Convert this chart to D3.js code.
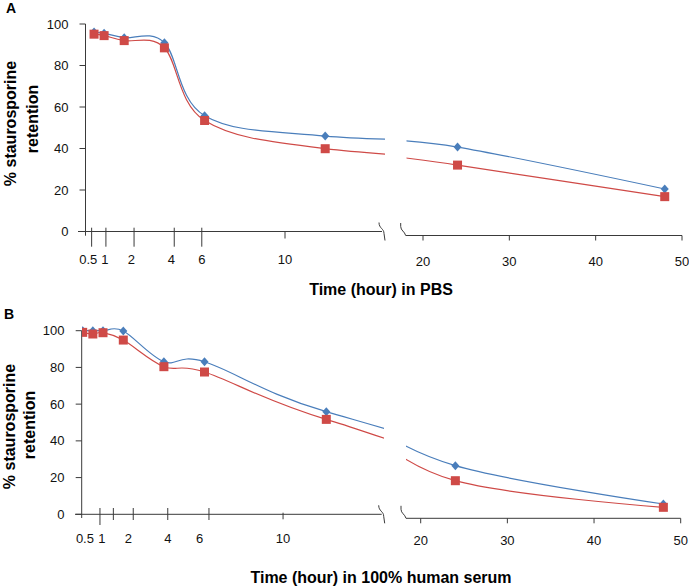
<!DOCTYPE html>
<html><head><meta charset="utf-8">
<script src="https://cdn.jsdelivr.net/npm/d3@7"></script>
<style>html,body{margin:0;padding:0;background:#fff;} svg{display:block;font-family:"Liberation Sans",Arial,sans-serif;}</style>
</head><body><svg id="chart" width="689" height="587"></svg>
<script>
// ---------------- data ----------------
const hoursA = [0.5, 1, 2, 4, 6, 12, 24, 48];
const blueA  = [96.1, 95.5, 93.4, 91.0, 55.8, 46.0, 40.7, 20.5];
const redA   = [95.1, 94.4, 92.0, 88.5, 53.5, 39.9, 32.0, 16.8];
const hoursB = [0, 0.5, 1, 2, 4, 6, 12, 24, 48];
const blueB  = [100, 100, 100, 99.8, 83.1, 83.1, 55.9, 26.5, 5.6];
const redB   = [99.1, 98.2, 98.9, 94.9, 80.4, 77.5, 51.7, 18.3, 3.8];
const yTickValues = [0, 20, 40, 60, 80, 100];
const leftTickLabels = ["0.5", "1", "2", "4", "6", "10"];
const tickMarkHoursA  = [0.38, 1.09, 2.49, 4.49, 5.86, 10.0];
const tickLabelHoursA = [0.21, 1.04, 2.36, 4.35, 5.87, 10.0];
const tickMarkHoursB  = [0.85, 1.51, 2.49, 4.19, 6.22, 9.87];
const tickLabelHoursB = [0.11, 0.95, 2.25, 4.20, 5.76, 9.87];
const rightTickValues = [20, 30, 40, 50];
const yTitleLines = ["% staurosporine", "retention"];
const xTitles = ["Time (hour) in PBS", "Time (hour) in 100% human serum"];
const panelLetters = ["A", "B"];

// ---------------- layout ----------------
const BLUE = "#4a7ebb", RED = "#cf4a47", AXIS = "#3a3a3a";
const svg = d3.select("#chart");

const layouts = [
  { letterX: 6, letterY: 13, yAxisX: 85.5, yPx: [231.5, 24], yAxisEnd: 235.7, leftAxisStart: 78,
    leftPx: [84, 385.5], breakX: 382, rightPx: [423, 682], rightAxisStart: 405.7, rightDrop: 4,
    longTick: [-3.8, 15.2], firstTickExtra: 0, shortTick: [0, 7], leftLabelDy: 32.5, rightLabelDy: 30.5,
    yTitleX: [16, 38], yTitleY: [123.5, 119], xTitleY: 295, yLabelEnd: 68.5,
    clipL: [85, 385], clipR: [406.5, 689] },
  { letterX: 4, letterY: 319, yAxisX: 81.7, yPx: [514.3, 330.7], yAxisEnd: 518, leftAxisStart: 75,
    leftPx: [82.7, 387.2], breakX: 381.7, rightPx: [420.7, 680.7], rightAxisStart: 406, rightDrop: 4,
    longTick: [-6.3, 5.7], firstTickExtra: 5, shortTick: [-1.6, 5], leftLabelDy: 29, rightLabelDy: 26.7,
    yTitleX: [15, 35], yTitleY: [426.5, 425], xTitleY: 583, yLabelEnd: 64.5,
    clipL: [82, 384], clipR: [406, 689] }
];

const panelData = [
  { hours: hoursA, blue: blueA, red: redA, marks: tickMarkHoursA, labels: tickLabelHoursA },
  { hours: hoursB, blue: blueB, red: redB, marks: tickMarkHoursB, labels: tickLabelHoursB }
];

const defs = svg.append("defs");

layouts.forEach((L, pi) => {
  const D = panelData[pi];
  const g = svg.append("g");
  const y = d3.scaleLinear().domain([0, 100]).range(L.yPx);
  const xl = d3.scaleLinear().domain([0, 15]).range(L.leftPx);
  const xr = d3.scaleLinear().domain([20, 50]).range(L.rightPx);
  const y0 = y(0);
  const yR = y0 + L.rightDrop;

  // panel letter
  g.append("text").attr("x", L.letterX).attr("y", L.letterY).attr("font-size", 14)
    .attr("font-weight", "bold").text(panelLetters[pi]);

  // y title (two lines)
  yTitleLines.forEach((t, i) => {
    g.append("text").attr("transform", `translate(${L.yTitleX[i]},${L.yTitleY[i]}) rotate(-90)`)
      .attr("text-anchor", "middle").attr("font-size", 16).attr("font-weight", "bold").text(t);
  });

  // y axis
  g.append("line").attr("x1", L.yAxisX).attr("x2", L.yAxisX).attr("y1", y(100)).attr("y2", L.yAxisEnd)
    .attr("stroke", AXIS).attr("stroke-width", 1);
  yTickValues.forEach(v => {
    g.append("line").attr("x1", L.yAxisX - 6).attr("x2", L.yAxisX).attr("y1", y(v)).attr("y2", y(v))
      .attr("stroke", AXIS).attr("stroke-width", 1);
    g.append("text").attr("x", L.yLabelEnd).attr("y", y(v)).attr("dy", "0.35em")
      .attr("text-anchor", "end").attr("font-size", 13).attr("fill", "#111").text(v);
  });

  // left x axis
  g.append("line").attr("x1", L.leftAxisStart).attr("x2", L.breakX).attr("y1", y0).attr("y2", y0)
    .attr("stroke", AXIS).attr("stroke-width", 1);
  D.marks.forEach((h, i) => {
    const isShort = i === D.marks.length - 1;
    const t = isShort ? L.shortTick : L.longTick;
    const extra = i === 0 ? L.firstTickExtra : 0;
    g.append("line").attr("x1", xl(h)).attr("x2", xl(h)).attr("y1", y0 + t[0]).attr("y2", y0 + t[1] + extra)
      .attr("stroke", AXIS).attr("stroke-width", 1);
  });
  D.labels.forEach((h, i) => {
    g.append("text").attr("x", xl(h)).attr("y", y0 + L.leftLabelDy).attr("text-anchor", "middle")
      .attr("font-size", 13).attr("fill", "#111").text(leftTickLabels[i]);
  });

  // break marks
  const bx = L.breakX;
  g.append("path").attr("d", `M${bx - 3},${y0 - 9} C${bx - 3},${y0 - 3} ${bx + 2},${y0 - 3} ${bx + 2},${y0 + 2} L${bx + 3},${y0 + 9}`)
    .attr("fill", "none").attr("stroke", AXIS).attr("stroke-width", 1);
  const rx = L.rightAxisStart;
  g.append("path").attr("d", `M${rx - 5},${yR - 12.5} L${rx - 5},${yR - 9} C${rx - 5},${yR - 5} ${rx - 1},${yR - 4} ${rx},${yR}`)
    .attr("fill", "none").attr("stroke", AXIS).attr("stroke-width", 1);

  // right x axis
  g.append("line").attr("x1", rx).attr("x2", xr(50)).attr("y1", yR).attr("y2", yR)
    .attr("stroke", AXIS).attr("stroke-width", 1);
  rightTickValues.forEach(v => {
    g.append("line").attr("x1", xr(v)).attr("x2", xr(v)).attr("y1", yR).attr("y2", yR + 5)
      .attr("stroke", AXIS).attr("stroke-width", 1);
    g.append("text").attr("x", xr(v)).attr("y", yR + L.rightLabelDy).attr("text-anchor", "middle")
      .attr("font-size", 13).attr("fill", "#111").text(v);
  });

  // x title
  g.append("text").attr("x", 381).attr("y", L.xTitleY).attr("text-anchor", "middle")
    .attr("font-size", 16).attr("font-weight", "bold").text(xTitles[pi]);

  // clip paths
  const top = y(100) - 20, bottom = y0 + 20;
  const cl = "clipL" + pi, cr = "clipR" + pi;
  defs.append("clipPath").attr("id", cl).append("rect")
    .attr("x", L.clipL[0]).attr("y", top).attr("width", L.clipL[1] - L.clipL[0]).attr("height", bottom - top);
  defs.append("clipPath").attr("id", cr).append("rect")
    .attr("x", L.clipR[0]).attr("y", top).attr("width", L.clipR[1] - L.clipR[0]).attr("height", bottom - top);

  const segs = [{ x: xl, clip: cl, vis: h => h <= 15 }, { x: xr, clip: cr, vis: h => h >= 18 }];
  const series = [{ vals: D.blue, color: BLUE, shape: "diamond" }, { vals: D.red, color: RED, shape: "square" }];

  segs.forEach(S => {
    const sg = g.append("g").attr("clip-path", `url(#${S.clip})`);
    series.forEach(se => {
      const pts = D.hours.map((h, i) => [S.x(h), y(se.vals[i])]);
      const line = d3.line().curve(d3.curveCardinal.tension(0));
      sg.append("path").attr("d", line(pts)).attr("fill", "none").attr("stroke", se.color).attr("stroke-width", 1.2);
      D.hours.forEach((h, i) => {
        if (!S.vis(h)) return;
        const cx = S.x(h), cy = y(se.vals[i]);
        if (se.shape === "diamond") {
          sg.append("path").attr("d", `M${cx},${cy - 4.5} L${cx + 4},${cy} L${cx},${cy + 4.5} L${cx - 4},${cy} Z`)
            .attr("fill", se.color);
        } else {
          sg.append("rect").attr("x", cx - 4.5).attr("y", cy - 4.5).attr("width", 9).attr("height", 9)
            .attr("fill", se.color);
        }
      });
    });
  });
});
</script>
</body></html>
